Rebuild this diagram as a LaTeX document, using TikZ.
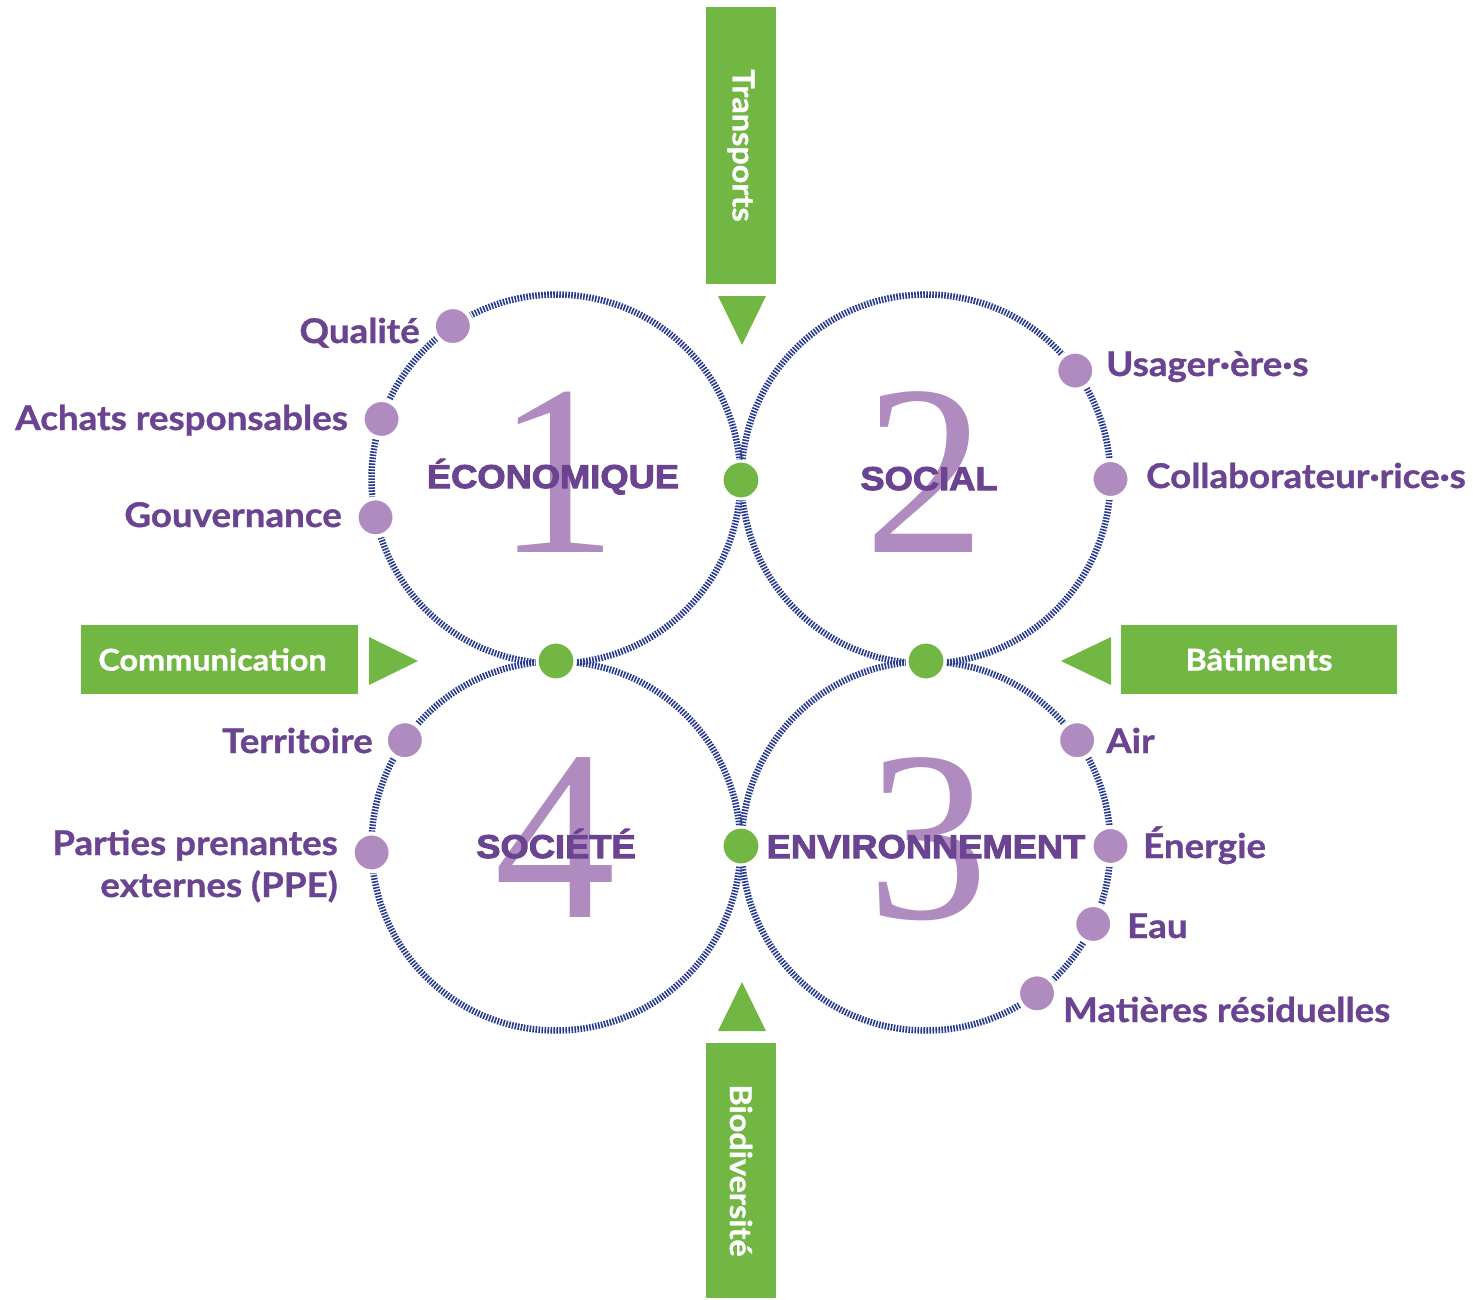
\documentclass[tikz,border=0pt]{standalone}
\usepackage{fontspec}
\newfontfamily\labfont{Lato}[BoldFeatures={FakeStretch=1.08,FakeBold=1}]
\newfontfamily\capfont{Liberation Sans}[BoldFeatures={FakeStretch=1.1,FakeBold=3}]
\newfontfamily\numfont{Liberation Serif}
\definecolor{dpurple}{RGB}{106,67,145}
\definecolor{lpurple}{RGB}{175,139,192}
\definecolor{lgreen}{RGB}{114,183,67}
\definecolor{dblue}{RGB}{40,58,142}
\tikzset{
 ring/.style={circle, draw=dblue, line width=6.5pt, dash pattern=on 1.6pt off 1.4pt, minimum size=369pt, inner sep=0pt, outer sep=0pt},
 pdot/.style={circle, fill=lpurple, draw=white, line width=4pt, minimum size=38pt, inner sep=0pt},
 gdot/.style={circle, fill=lgreen, draw=white, line width=3pt, minimum size=38pt, inner sep=0pt},
 lab/.style={text=dpurple, font=\labfont\bfseries\fontsize{34}{42}\selectfont, inner sep=0pt},
 titlelab/.style={text=dpurple, font=\capfont\bfseries\fontsize{33}{40}\selectfont, inner sep=0pt},
 bignum/.style={text=lpurple, font=\numfont\fontsize{243}{250}\selectfont, inner sep=0pt},
 banner/.style={fill=lgreen, text=white, font=\labfont\bfseries\fontsize{30}{36}\selectfont, inner sep=0pt},
 tri/.style={fill=lgreen},
}
\begin{document}
\begin{tikzpicture}[x=1pt,y=-1pt]
\useasboundingbox (0,0) rectangle (1473,1299);
% rings
\node[ring] (c1) at (556,479) {};
\node[ring] (c2) at (926,479) {};
\node[ring] (c3) at (926,846) {};
\node[ring] (c4) at (556,846) {};
% big numbers
\node[bignum, anchor=base] (n1) at (557,552) {1};
\node[bignum, anchor=base] (n2) at (925,552) {2};
\node[bignum, anchor=base] (n3) at (928,918) {3};
\node[bignum, anchor=base] (n4) at (555,917) {4};
% inner titles
\node[titlelab, anchor=base] (t1) at (553,488) {ÉCONOMIQUE};
\node[titlelab, anchor=base] (t2) at (929,490) {SOCIAL};
\node[titlelab, anchor=base] (t3) at (926,858) {ENVIRONNEMENT};
\node[titlelab, anchor=base] (t4) at (556,858) {SOCIÉTÉ};
% green junction dots
\node[gdot] (g12) at (741,480) {};
\node[gdot] (g14) at (556,661) {};
\node[gdot] (g23) at (926,661) {};
\node[gdot] (g34) at (741,846) {};
% purple dots
\node[pdot] (dq) at (c1.124) {};
\node[pdot] (da) at (c1.161) {};
\node[pdot] (dg) at (c1.192) {};
\node[pdot] (du) at (c2.36) {};
\node[pdot] (dc) at (c2.0) {};
\node[pdot] (dair) at (c3.35) {};
\node[pdot] (den) at (c3.0) {};
\node[pdot] (deau) at (c3.-25) {};
\node[pdot] (dm) at (c3.-53) {};
\node[pdot] (dt) at (c4.145) {};
\node[pdot] (dp) at (c4.182) {};
% labels
\node[lab, anchor=base east] (lq) at (420,343) {Qualité};
\node[lab, anchor=base east] (la) at (348,430) {Achats responsables};
\node[lab, anchor=base east] (lg) at (342,527) {Gouvernance};
\node[lab, anchor=base west] (lu) at (1106,376) {Usager·ère·s};
\node[lab, anchor=base west] (lc) at (1146,488) {Collaborateur·rice·s};
\node[lab, anchor=base east] (lt) at (373,753) {Territoire};
\node[lab, anchor=base east] (lp1) at (338,855) {Parties prenantes};
\node[lab, anchor=base east] (lp2) at (338,897) {externes (PPE)};
\node[lab, anchor=base west] (lair) at (1106,753) {Air};
\node[lab, anchor=base west] (len) at (1143,858) {Énergie};
\node[lab, anchor=base west] (leau) at (1127,938) {Eau};
\node[lab, anchor=base west] (lm) at (1063,1022) {Matières résiduelles};
% banners
\node[banner, minimum width=70pt, minimum height=277pt] (bt) at (741,145.5) {\rotatebox{-90}{Transports}};
\node[banner, minimum width=70pt, minimum height=255pt] (bb) at (741,1170.5) {\rotatebox{-90}{Biodiversité}};
\node[banner, minimum width=277pt, minimum height=69pt] (bc) at (219.5,659.5) {\hspace*{-14pt}Communication};
\node[banner, minimum width=276pt, minimum height=69pt] (bm) at (1259,659.5) {Bâtiments};
% pointers
\fill[tri] (718,296) -- (766,296) -- (742,345) -- cycle;
\fill[tri] (718,1031) -- (766,1031) -- (742,982) -- cycle;
\fill[tri] (369,637) -- (369,685) -- (418,661) -- cycle;
\fill[tri] (1111,637) -- (1111,685) -- (1061,661) -- cycle;
\end{tikzpicture}
\end{document}
